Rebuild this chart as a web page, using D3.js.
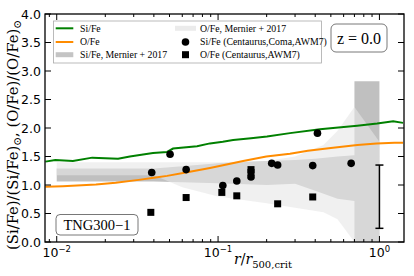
<!DOCTYPE html>
<html>
<head>
<meta charset="utf-8">
<script src="https://cdn.jsdelivr.net/npm/d3@7"></script>
<style>
body { margin: 0; background: #fff; }
svg text { fill: #000; }
</style>
</head>
<body>
<svg id="chart" width="414" height="276"></svg>
<script>
// simulation profiles (TNG300-1, z=0)
var siR   = [0.0085, 0.0098, 0.0126, 0.0166, 0.024, 0.0284, 0.0395, 0.0483, 0.0526, 0.0741, 0.0891, 0.107, 0.124, 0.16, 0.201, 0.279, 0.428, 0.516, 0.728, 0.968, 1.217, 1.40];
var siVal = [1.41, 1.44, 1.42, 1.48, 1.46, 1.50, 1.56, 1.58, 1.64, 1.68, 1.73, 1.76, 1.79, 1.82, 1.85, 1.91, 1.98, 2.00, 2.04, 2.08, 2.12, 2.09];
var oR    = [0.0085, 0.0109, 0.0175, 0.0232, 0.0322, 0.0410, 0.0483, 0.0631, 0.0891, 0.143, 0.199, 0.279, 0.36, 0.50, 0.73, 0.96, 1.24, 1.40];
var oVal  = [0.97, 0.98, 1.01, 1.04, 1.09, 1.13, 1.16, 1.22, 1.30, 1.42, 1.50, 1.55, 1.60, 1.65, 1.70, 1.73, 1.74, 1.74];

// Mernier et al. 2017 bands
var siBandR  = [0.01, 0.04, 0.06, 0.1, 0.2, 0.3, 0.4, 0.55, 0.7, 0.7, 1.0];
var siBandLo = [1.06, 1.06, 1.05, 1.03, 1.00, 1.02, 0.90, 0.76, 0.72, 0.0, 0.0];
var siBandHi = [1.29, 1.29, 1.33, 1.38, 1.42, 1.44, 1.46, 1.50, 1.52, 2.82, 2.82];
var oBandR   = [0.01, 0.04, 0.06, 0.1, 0.2, 0.3, 0.45, 0.55, 0.7, 1.0];
var oBandLo  = [1.17, 1.17, 0.96, 0.80, 0.68, 0.60, 0.52, 0.40, 0.0, 0.0];
var oBandHi  = [1.40, 1.40, 1.40, 1.40, 1.42, 1.50, 1.70, 1.95, 2.37, 1.76];

// observations
var siObsR = [0.0388, 0.0504, 0.0634, 0.107, 0.1306, 0.160, 0.215, 0.234, 0.386, 0.413, 0.668];
var siObsV = [1.22, 1.54, 1.27, 0.99, 1.07, 1.14, 1.38, 1.35, 1.34, 1.91, 1.38];
var oObsR  = [0.0383, 0.0634, 0.1055, 0.1306, 0.160, 0.160, 0.234, 0.386];
var oObsV  = [0.52, 0.78, 0.87, 0.81, 1.27, 1.22, 0.67, 0.79];

// typical error bar
var errR = 1.0, errLo = 0.24, errHi = 1.35;

var yTicks = [0.0, 0.5, 1.0, 1.5, 2.0, 2.5, 3.0, 3.5, 4.0];
var xTicks = [0.01, 0.1, 1];
var xTickExp = ["\u22122", "\u22121", "0"];

var W = 414, H = 276;
var margin = {top: 14, right: 10, bottom: 34, left: 45};
var width = W - margin.left - margin.right,
    height = H - margin.top - margin.bottom;

var svg = d3.select("#chart");
var g = svg.append("g").attr("transform", "translate(" + margin.left + "," + margin.top + ")");

var x = d3.scaleLog().domain([0.00846, 1.42]).range([0, width]);
var y = d3.scaleLinear().domain([0, 4]).range([height, 0]);

g.append("clipPath").attr("id", "clip")
    .append("rect").attr("width", width).attr("height", height);
var plot = g.append("g").attr("clip-path", "url(#clip)");

// bands
var siBand = siBandR.map(function (r, i) { return {r: r, lo: siBandLo[i], hi: siBandHi[i]}; });
var oBand = oBandR.map(function (r, i) { return {r: r, lo: oBandLo[i], hi: oBandHi[i]}; });
var area = d3.area()
    .x(function (d) { return x(d.r); })
    .y0(function (d) { return y(d.lo); })
    .y1(function (d) { return y(d.hi); });

plot.append("path").datum(siBand).attr("d", area)
    .attr("fill", "#b0b0b0").attr("fill-opacity", 0.8);
plot.append("path").datum(oBand).attr("d", area)
    .attr("fill", "#e6e6e6").attr("fill-opacity", 0.6);

// lines
var line = d3.line()
    .x(function (d) { return x(d[0]); })
    .y(function (d) { return y(d[1]); });
plot.append("path").datum(d3.zip(siR, siVal)).attr("d", line)
    .attr("fill", "none").attr("stroke", "#008000").attr("stroke-width", 2);
plot.append("path").datum(d3.zip(oR, oVal)).attr("d", line)
    .attr("fill", "none").attr("stroke", "#ff8c00").attr("stroke-width", 2);

// observations
plot.selectAll(".sq").data(d3.zip(oObsR, oObsV)).enter().append("rect")
    .attr("class", "sq")
    .attr("x", function (d) { return x(d[0]) - 3.5; })
    .attr("y", function (d) { return y(d[1]) - 3.5; })
    .attr("width", 7).attr("height", 7).attr("fill", "#000");
plot.selectAll(".dot").data(d3.zip(siObsR, siObsV)).enter().append("circle")
    .attr("class", "dot")
    .attr("cx", function (d) { return x(d[0]); })
    .attr("cy", function (d) { return y(d[1]); })
    .attr("r", 3.8).attr("fill", "#000");

// error bar
var eb = g.append("g").attr("stroke", "#000").attr("stroke-width", 1.5);
eb.append("line").attr("x1", x(errR)).attr("x2", x(errR)).attr("y1", y(errLo)).attr("y2", y(errHi));
eb.append("line").attr("x1", x(errR) - 4).attr("x2", x(errR) + 4).attr("y1", y(errLo)).attr("y2", y(errLo));
eb.append("line").attr("x1", x(errR) - 4).attr("x2", x(errR) + 4).attr("y1", y(errHi)).attr("y2", y(errHi));

// axes with inward ticks on all sides
var minor = [];
[0.001, 0.01, 0.1, 1].forEach(function (dec) {
    for (var k = 2; k <= 9; k++) {
        var v = dec * k;
        if (v >= x.domain()[0] && v <= x.domain()[1]) minor.push(v);
    }
});
var ax = g.append("g").attr("stroke", "#000").attr("stroke-width", 1);
xTicks.forEach(function (t) {
    ax.append("line").attr("x1", x(t)).attr("x2", x(t)).attr("y1", height).attr("y2", height - 6);
    ax.append("line").attr("x1", x(t)).attr("x2", x(t)).attr("y1", 0).attr("y2", 6);
});
minor.forEach(function (t) {
    ax.append("line").attr("x1", x(t)).attr("x2", x(t)).attr("y1", height).attr("y2", height - 3);
    ax.append("line").attr("x1", x(t)).attr("x2", x(t)).attr("y1", 0).attr("y2", 3);
});
yTicks.forEach(function (t) {
    ax.append("line").attr("x1", 0).attr("x2", 6).attr("y1", y(t)).attr("y2", y(t));
    ax.append("line").attr("x1", width).attr("x2", width - 6).attr("y1", y(t)).attr("y2", y(t));
});

g.selectAll(".ylab").data(yTicks).enter().append("text")
    .attr("x", -4).attr("y", function (d) { return y(d); })
    .attr("dy", "0.36em").attr("text-anchor", "end")
    .style("font-family", "DejaVu Sans").style("font-size", "12.5px")
    .text(function (d) { return d.toFixed(1); });

var xl = g.selectAll(".xlab").data(xTicks).enter().append("text")
    .attr("x", function (d) { return x(d); }).attr("y", height + 15)
    .attr("text-anchor", "middle")
    .style("font-family", "DejaVu Sans").style("font-size", "12.5px");
xl.append("tspan").text("10");
xl.append("tspan").attr("dy", -5).style("font-size", "8.5px")
    .text(function (d, i) { return xTickExp[i]; });

g.append("rect").attr("width", width).attr("height", height)
    .attr("fill", "none").attr("stroke", "#000").attr("stroke-width", 1.3);

// axis titles
var xt = svg.append("text").attr("x", 234).attr("y", 264)
    .style("font-family", "DejaVu Serif").style("font-size", "14px");
xt.append("tspan").style("font-style", "italic").text("r");
xt.append("tspan").text("/");
xt.append("tspan").style("font-style", "italic").text("r");
xt.append("tspan").attr("dy", 4).style("font-size", "10px").text("500,crit");

var yt = svg.append("text")
    .attr("transform", "translate(18," + 135 + ") rotate(-90)")
    .attr("text-anchor", "middle").style("font-family", "DejaVu Serif").style("font-size", "14.8px");
yt.append("tspan").text("(Si/Fe)/(Si/Fe)");
yt.append("tspan").attr("dy", 3).style("font-size", "10.5px").text("\u2299");
yt.append("tspan").attr("dy", -3).text(", (O/Fe)/(O/Fe)");
yt.append("tspan").attr("dy", 3).style("font-size", "10.5px").text("\u2299");

// legend
var lg = svg.append("g");
lg.append("rect").attr("x", 53.5).attr("y", 21).attr("width", 268).attr("height", 42)
    .attr("fill", "#fff").attr("fill-opacity", 0.8).attr("stroke", "#aaa").attr("stroke-width", 0.8);
var rows = [28.3, 42, 54.7];
var legItems = [
    {col: 0, row: 0, kind: "line", color: "#008000", w: 2, label: "Si/Fe"},
    {col: 0, row: 1, kind: "line", color: "#ff8c00", w: 2, label: "O/Fe"},
    {col: 0, row: 2, kind: "line", color: "#c4c4c4", w: 5, label: "Si/Fe, Mernier + 2017"},
    {col: 1, row: 0, kind: "line", color: "#ebebeb", w: 5, label: "O/Fe, Mernier + 2017"},
    {col: 1, row: 1, kind: "dot", label: "Si/Fe (Centaurus,Coma,AWM7)"},
    {col: 1, row: 2, kind: "sq", label: "O/Fe (Centaurus,AWM7)"}
];
var colX = [[55.7, 73.3, 80], [175, 196, 200]];
legItems.forEach(function (it) {
    var cx = colX[it.col], yy = rows[it.row];
    if (it.kind === "line") {
        lg.append("line").attr("x1", cx[0]).attr("x2", cx[1]).attr("y1", yy).attr("y2", yy)
            .attr("stroke", it.color).attr("stroke-width", it.w);
    } else if (it.kind === "dot") {
        lg.append("circle").attr("cx", (cx[0] + cx[1]) / 2).attr("cy", yy).attr("r", 3.8).attr("fill", "#000");
    } else {
        lg.append("rect").attr("x", (cx[0] + cx[1]) / 2 - 3.5).attr("y", yy - 3.5)
            .attr("width", 7).attr("height", 7).attr("fill", "#000");
    }
    lg.append("text").attr("x", cx[2]).attr("y", yy).attr("dy", "0.35em")
        .style("font-family", "Liberation Serif").style("font-size", "9.8px").text(it.label);
});

// annotation boxes
svg.append("rect").attr("x", 331).attr("y", 24).attr("width", 56).attr("height", 28).attr("rx", 5)
    .attr("fill", "#fff").attr("stroke", "#555").attr("stroke-width", 0.8);
svg.append("text").attr("x", 359).attr("y", 38).attr("dy", "0.35em").attr("text-anchor", "middle")
    .style("font-family", "Liberation Serif").style("font-size", "16px").text("z = 0.0");

svg.append("rect").attr("x", 56).attr("y", 214.5).attr("width", 82).attr("height", 20.5).attr("rx", 4)
    .attr("fill", "#fff").attr("stroke", "#555").attr("stroke-width", 0.8);
svg.append("text").attr("x", 97).attr("y", 225).attr("dy", "0.35em").attr("text-anchor", "middle")
    .style("font-family", "Liberation Serif").style("font-size", "14.5px").text("TNG300\u22121");
</script>
</body>
</html>
